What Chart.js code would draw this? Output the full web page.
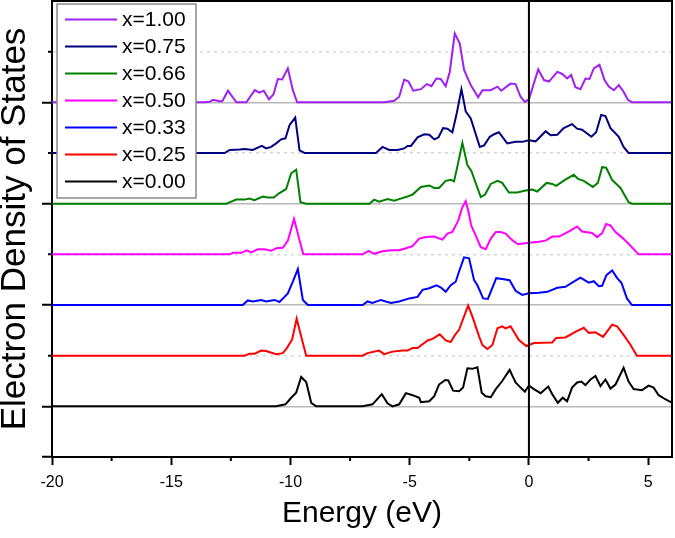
<!DOCTYPE html>
<html>
<head>
<meta charset="utf-8">
<script src="https://cdn.jsdelivr.net/npm/chart.js@4.4.1/dist/chart.umd.min.js"></script>
<style>
  body { margin: 0; background: #fff; }
</style>
</head>
<body>
<canvas id="dosChart" width="675" height="538"></canvas>
<script>
// DOS curves: [energy (eV), density above its own baseline]
const dos000 = [[-20,0],[-10.6,0],[-10.21,0.04],[-9.97,0.17],[-9.76,0.27],[-9.55,0.58],[-9.34,0.48],[-9.13,0.07],[-8.92,0],
  [-6.97,0],[-6.56,0.04],[-6.17,0.24],[-5.93,0.06],[-5.72,0],[-5.44,0.04],[-5.16,0.26],[-4.88,0.22],[-4.6,0.17],[-4.53,0.08],
  [-4.18,0.1],[-3.97,0.2],[-3.77,0.43],[-3.51,0.52],[-3.38,0.51],[-3.18,0.31],[-2.93,0.3],[-2.76,0.37],[-2.58,0.75],[-2.37,0.74],
  [-2.16,0.77],[-1.98,0.27],[-1.81,0.2],[-1.6,0.18],[-1.39,0.34],[-1.12,0.5],[-0.81,0.72],[-0.56,0.47],[-0.35,0.37],[-0.17,0.29],
  [0,0.41],[0.21,0.34],[0.49,0.26],[0.81,0.39],[0.98,0.24],[1.21,0.07],[1.42,0.17],[1.6,0.1],[1.81,0.37],[2.02,0.47],[2.2,0.49],
  [2.37,0.42],[2.58,0.53],[2.79,0.6],[3.0,0.4],[3.21,0.53],[3.42,0.35],[3.63,0.43],[3.97,0.76],[4.18,0.49],[4.39,0.34],[4.74,0.32],
  [5.02,0.41],[5.23,0.37],[5.44,0.22],[5.72,0.14],[5.93,0.09],[6,0.08]];

const dos025 = [[-20,0],[-11.92,0],[-11.72,0.04],[-11.5,0.04],[-11.23,0.1],[-11.02,0.09],[-10.6,0.03],[-10.32,0.05],[-10.15,0.15],
  [-9.93,0.32],[-9.74,0.73],[-9.55,0.38],[-9.34,0],[-6.97,0],[-6.77,0.05],[-6.28,0.1],[-6.07,0.03],[-5.72,0.08],[-5.3,0.1],[-5.09,0.1],
  [-4.88,0.15],[-4.67,0.15],[-4.25,0.3],[-4.04,0.33],[-3.74,0.42],[-3.49,0.3],[-3.28,0.27],[-3.1,0.41],[-2.93,0.51],[-2.55,0.99],
  [-2.37,0.77],[-2.09,0.38],[-1.95,0.21],[-1.74,0.13],[-1.53,0.21],[-1.32,0.54],[-1.12,0.58],[-0.98,0.54],[-0.77,0.58],[-0.42,0.31],
  [-0.11,0.19],[0.21,0.25],[0.98,0.26],[1.14,0.35],[1.53,0.36],[1.95,0.47],[2.3,0.55],[2.51,0.45],[2.79,0.46],[3.11,0.37],[3.49,0.61],
  [3.7,0.58],[3.97,0.41],[4.25,0.22],[4.53,0],[6,0]];

const dos033 = [[-20,0],[-12.0,0],[-11.79,0.09],[-11.58,0.07],[-11.23,0.1],[-11.02,0.07],[-10.67,0.1],[-10.46,0.06],[-10.25,0.16],
  [-10.11,0.23],[-9.9,0.46],[-9.69,0.71],[-9.48,0.1],[-9.27,0],[-6.97,0],[-6.77,0.07],[-6.56,0.04],[-6.21,0.1],[-5.79,0.04],[-5.44,0.07],
  [-5.02,0.13],[-4.67,0.16],[-4.46,0.3],[-4.18,0.33],[-3.88,0.39],[-3.7,0.35],[-3.49,0.26],[-3.28,0.39],[-3.07,0.46],[-2.93,0.66],
  [-2.72,0.94],[-2.51,0.92],[-2.3,0.49],[-2.16,0.39],[-1.92,0.13],[-1.72,0.12],[-1.37,0.53],[-1.05,0.51],[-0.81,0.49],[-0.56,0.28],
  [-0.28,0.2],[0,0.23],[0.42,0.24],[0.77,0.26],[1.19,0.34],[1.53,0.36],[1.88,0.46],[2.16,0.54],[2.51,0.44],[2.72,0.47],[2.93,0.37],
  [3.07,0.38],[3.25,0.59],[3.49,0.68],[3.7,0.53],[3.88,0.44],[4.11,0.13],[4.32,0],[6,0]];

const dos050 = [[-20,0],[-12.55,0],[-12.41,0.03],[-12.06,0.03],[-11.83,0.08],[-11.65,0.04],[-11.37,0.1],[-11.09,0.1],[-10.81,0.07],
  [-10.6,0.12],[-10.32,0.13],[-10.11,0.27],[-9.85,0.7],[-9.62,0.28],[-9.46,0],[-6.97,0],[-6.72,0.07],[-6.49,0.01],[-6.14,0.06],
  [-5.79,0.08],[-5.44,0.08],[-5.16,0.12],[-4.88,0.16],[-4.6,0.31],[-4.32,0.34],[-3.97,0.35],[-3.63,0.29],[-3.42,0.41],[-3.21,0.44],
  [-2.96,0.67],[-2.8,0.92],[-2.65,1.05],[-2.54,0.85],[-2.42,0.57],[-2.23,0.37],[-2.02,0.14],[-1.81,0.1],[-1.6,0.31],[-1.39,0.44],
  [-1.18,0.44],[-0.98,0.41],[-0.7,0.28],[-0.46,0.2],[0,0.23],[0.42,0.25],[0.7,0.27],[0.98,0.35],[1.26,0.35],[1.46,0.4],[1.74,0.47],
  [2.02,0.55],[2.23,0.45],[2.65,0.42],[2.86,0.34],[3.07,0.42],[3.24,0.6],[3.42,0.57],[3.63,0.44],[3.91,0.33],[4.18,0.21],[4.6,0],[6,0]];

const dos066 = [[-20,0],[-12.69,0],[-12.48,0.04],[-12.27,0.08],[-11.92,0.08],[-11.72,0.1],[-11.51,0.07],[-11.16,0.14],[-10.95,0.12],
  [-10.7,0.12],[-10.46,0.21],[-10.18,0.29],[-9.97,0.6],[-9.76,0.67],[-9.58,0.03],[-9.34,0],[-6.69,0],[-6.49,0.08],[-6.28,0.04],
  [-5.93,0.09],[-5.65,0.06],[-5.44,0.09],[-5.09,0.14],[-4.88,0.18],[-4.53,0.33],[-4.18,0.36],[-3.97,0.31],[-3.77,0.31],[-3.49,0.45],
  [-3.28,0.47],[-3.14,0.44],[-2.97,0.8],[-2.79,1.2],[-2.58,0.76],[-2.41,0.64],[-2.02,0.13],[-1.84,0.18],[-1.6,0.39],[-1.32,0.45],
  [-1.12,0.41],[-0.84,0.22],[-0.49,0.22],[-0.14,0.26],[0.14,0.28],[0.35,0.24],[0.74,0.41],[0.98,0.39],[1.14,0.35],[1.51,0.47],
  [1.88,0.57],[2.06,0.49],[2.3,0.45],[2.68,0.33],[2.89,0.41],[3.07,0.72],[3.24,0.71],[3.49,0.47],[3.84,0.31],[4.18,0.03],[4.32,0],[6,0]];

const dos075 = [[-20,0],[-12.76,0],[-12.55,0.06],[-12.13,0.07],[-11.92,0.08],[-11.58,0.06],[-11.3,0.12],[-11.2,0.14],[-11.02,0.09],
  [-10.81,0.12],[-10.6,0.19],[-10.39,0.27],[-10.21,0.29],[-10.04,0.55],[-9.8,0.7],[-9.62,0.05],[-9.41,0],[-6.41,0],[-6.14,0.12],
  [-5.86,0.06],[-5.51,0.06],[-5.23,0.09],[-5.09,0.14],[-4.95,0.14],[-4.67,0.31],[-4.39,0.37],[-4.18,0.36],[-3.97,0.27],[-3.79,0.31],
  [-3.6,0.49],[-3.42,0.48],[-3.21,0.41],[-3.02,0.8],[-2.83,1.26],[-2.65,0.82],[-2.44,0.68],[-2.06,0.12],[-1.88,0.15],[-1.64,0.32],
  [-1.46,0.37],[-1.26,0.41],[-0.91,0.19],[-0.56,0.22],[-0.28,0.22],[0,0.25],[0.28,0.23],[0.7,0.43],[0.91,0.35],[1.19,0.36],[1.46,0.49],
  [1.81,0.57],[2.02,0.48],[2.23,0.46],[2.62,0.32],[2.82,0.41],[3.03,0.75],[3.21,0.73],[3.42,0.49],[3.77,0.32],[3.97,0.12],[4.18,0],[6,0]];

const dos100 = [[-20,0],[-13.6,0],[-13.39,0.01],[-13.25,0.05],[-12.97,0.02],[-12.86,0.02],[-12.62,0.23],[-12.27,0],[-11.85,0],
  [-11.5,0.24],[-11.3,0.19],[-11.12,0.23],[-10.9,0.06],[-10.71,0.16],[-10.53,0.46],[-10.35,0.45],[-10.11,0.67],[-9.9,0.24],[-9.72,0],
  [-6.07,0],[-5.65,0.03],[-5.44,0.11],[-5.23,0.45],[-5.05,0.41],[-4.85,0.23],[-4.53,0.26],[-4.28,0.36],[-4.09,0.32],[-3.88,0.47],
  [-3.7,0.46],[-3.49,0.32],[-3.32,0.6],[-3.11,1.36],[-2.9,1.16],[-2.72,0.64],[-2.44,0.34],[-2.13,0.1],[-1.95,0.24],[-1.6,0.24],
  [-1.32,0.31],[-1.16,0.23],[-0.77,0.37],[-0.56,0.36],[-0.35,0.11],[-0.17,0.01],[0,0.06],[0.39,0.65],[0.63,0.44],[0.84,0.41],
  [1.19,0.6],[1.4,0.56],[1.6,0.47],[1.77,0.54],[1.95,0.3],[2.16,0.26],[2.37,0.47],[2.54,0.46],[2.72,0.67],[2.96,0.74],[3.17,0.44],
  [3.35,0.31],[3.56,0.24],[3.77,0.34],[3.97,0.21],[4.15,0.05],[4.32,0],[6,0]];

const seriesLabels = ["x=0.00", "x=0.25", "x=0.33", "x=0.50", "x=0.66", "x=0.75", "x=1.00"];
const seriesDos = [dos000, dos025, dos033, dos050, dos066, dos075, dos100];
const seriesColors = ["#000000", "#ff0000", "#0000ff", "#ff00ff", "#008000", "#000080", "#a020f0"];

const xTicks = [-20, -15, -10, -5, 0, 5];
const xMinorTicks = [-17.5, -12.5, -7.5, -2.5, 2.5];
const yTicks = [0, 1, 2, 3, 4, 5, 6, 7, 8, 9];
const yMinorTicks = [2, 4, 6, 8];

Chart.defaults.font.family = "'Liberation Sans', Arial, sans-serif";
Chart.defaults.color = "#000";

// each curve sits on its own baseline (1, 2, 3 ...)
const datasets = seriesDos.map((dos, i) => ({
  label: seriesLabels[i],
  data: dos.map(([e, v]) => ({ x: e, y: v + i + 1 })),
  borderColor: seriesColors[i],
  borderWidth: 2,
  pointRadius: 0,
  tension: 0,
}));

const frame = {
  id: "frame",
  afterDatasetsDraw(chart) {
    const { ctx, chartArea: a, scales: { x, y } } = chart;
    ctx.save();
    ctx.strokeStyle = "#000";
    ctx.lineWidth = 2;
    // Fermi level
    const x0 = x.getPixelForValue(0);
    ctx.beginPath();
    ctx.moveTo(x0, a.top);
    ctx.lineTo(x0, a.bottom);
    ctx.stroke();
    // top and right sides of the box
    ctx.beginPath();
    ctx.moveTo(a.left, a.top);
    ctx.lineTo(a.right, a.top);
    ctx.lineTo(a.right, a.bottom);
    ctx.stroke();
    // minor ticks
    ctx.beginPath();
    xMinorTicks.forEach((v) => {
      const px = x.getPixelForValue(v);
      ctx.moveTo(px, a.bottom);
      ctx.lineTo(px, a.bottom + 4);
    });
    yMinorTicks.forEach((v) => {
      const py = y.getPixelForValue(v);
      ctx.moveTo(a.left, py);
      ctx.lineTo(a.left - 4, py);
    });
    ctx.stroke();
    ctx.restore();
  },
  afterDraw(chart) {
    // legend box inside the plot, top left
    const { ctx, chartArea: a } = chart;
    const left = a.left + 5, top = a.top + 3, w = 139, h = 194;
    ctx.save();
    ctx.fillStyle = "#fff";
    ctx.fillRect(left, top, w, h);
    ctx.strokeStyle = "#8a8a8a";
    ctx.lineWidth = 1.5;
    ctx.strokeRect(left, top, w, h);
    ctx.font = "21px 'Liberation Sans', Arial, sans-serif";
    ctx.textBaseline = "middle";
    ctx.fillStyle = "#000";
    const ds = chart.data.datasets.slice().reverse();
    ds.forEach((d, i) => {
      const cy = top + 15.5 + i * 27;
      ctx.strokeStyle = d.borderColor;
      ctx.lineWidth = 2;
      ctx.beginPath();
      ctx.moveTo(left + 8, cy);
      ctx.lineTo(left + 60, cy);
      ctx.stroke();
      ctx.fillText(d.label, left + 65, cy + 1);
    });
    ctx.restore();
  },
};

new Chart(document.getElementById("dosChart"), {
  type: "line",
  data: { datasets },
  options: {
    responsive: false,
    animation: false,
    layout: { padding: { top: 1, right: 3, left: 0, bottom: 0 } },
    plugins: { legend: { display: false }, tooltip: { enabled: false } },
    scales: {
      x: {
        type: "linear",
        min: -20,
        max: 6,
        afterBuildTicks: (s) => { s.ticks = xTicks.map((v) => ({ value: v })); },
        afterFit: (s) => { s.height = 81; },
        ticks: { font: { size: 16 }, padding: 8, maxRotation: 0 },
        grid: { drawOnChartArea: false, tickLength: 8, tickWidth: 2, tickColor: "#000" },
        border: { color: "#000", width: 2 },
        title: {
          display: true,
          text: "Energy (eV)",
          font: { size: 30, lineHeight: 1 },
          padding: { top: 0, bottom: 9 },
        },
      },
      y: {
        type: "linear",
        min: 0,
        max: 9,
        afterBuildTicks: (s) => { s.ticks = yTicks.map((v) => ({ value: v })); },
        afterFit: (s) => { s.width = 52; },
        ticks: { display: false },
        grid: {
          lineWidth: 1.5,
          color: (c) => {
            const v = c.tick ? c.tick.value : 0;
            if (v === 0 || v === 9) return "rgba(0,0,0,0)";
            return v % 2 ? "#b8b8b8" : "#d6d6d6";
          },
          tickLength: 10,
          tickWidth: 2,
          tickColor: (c) => {
            const v = c.tick ? c.tick.value : 0;
            return v === 0 || v % 2 === 1 ? (v === 9 ? "rgba(0,0,0,0)" : "#000") : "rgba(0,0,0,0)";
          },
        },
        border: {
          color: "#000",
          width: 2,
          dash: (c) => (c.tick && c.tick.value % 2 === 0 ? [3, 4] : []),
        },
        title: {
          display: true,
          text: "Electron Density of States",
          font: { size: 35, lineHeight: 0.9 },
          padding: { top: 0, bottom: 0 },
        },
      },
    },
  },
  plugins: [frame],
});
</script>
</body>
</html>
